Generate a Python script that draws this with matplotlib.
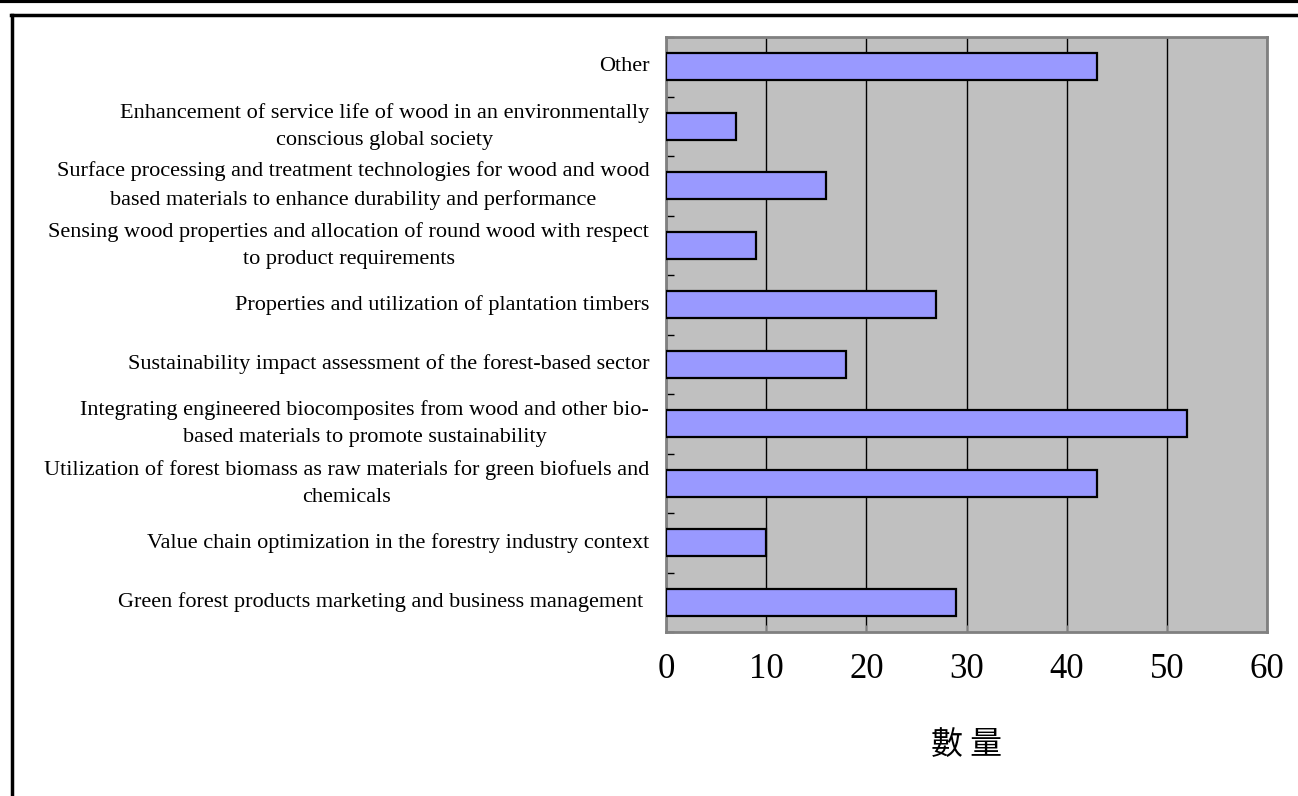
import numpy as np
import matplotlib
matplotlib.use('Agg')
import matplotlib.pyplot as plt
from matplotlib.lines import Line2D

# data, bottom to top
categories = [
    'Green forest products marketing and business management ',
    'Value chain optimization in the forestry industry context',
    'Utilization of forest biomass as raw materials for green biofuels and\nchemicals',
    'Integrating engineered biocomposites from wood and other bio-\nbased materials to promote sustainability',
    'Sustainability impact assessment of the forest-based sector',
    'Properties and utilization of plantation timbers',
    'Sensing wood properties and allocation of round wood with respect\nto product requirements',
    'Surface processing and treatment technologies for wood and wood\nbased materials to enhance durability and performance',
    'Enhancement of service life of wood in an environmentally\nconscious global society',
    'Other',
]
counts = [29, 10, 43, 52, 18, 27, 9, 16, 7, 43]
xticks = [0, 10, 20, 30, 40, 50, 60]
xlabel = '數 量'

serif = ['Liberation Serif', 'DejaVu Serif']
cjk = ['Noto Sans CJK TC', 'DejaVu Sans']

fig = plt.figure(figsize=(12.98, 7.96), dpi=100)
ax = fig.add_axes([666 / 1298, 1 - 632 / 796, 601 / 1298, 595 / 796])

y = np.arange(len(categories))
ax.set_facecolor('#C0C0C0')
ax.barh(y, counts, height=0.45, color='#9999FF', edgecolor='black', linewidth=1.6, zorder=3)

ax.set_xlim(0, 60)
ax.set_ylim(-0.5, len(categories) - 0.5)
ax.set_xticks(xticks)
ax.set_xticklabels([str(t) for t in xticks], family=serif, fontsize=25)
ax.tick_params(axis='x', direction='in', length=5, pad=15, color='#808080')
ax.xaxis.grid(True, color='black', linewidth=1, zorder=1)
ax.set_axisbelow(True)

# category labels sit between boundary ticks
ax.set_yticks(np.arange(-0.5, len(categories), 1.0))
ax.set_yticklabels([])
ax.tick_params(axis='y', direction='in', length=6, color='black', width=1)
for yi, lab in zip(y, categories):
    ax.text(-0.028, yi, lab, transform=ax.get_yaxis_transform(), ha='right', va='center',
            multialignment='center', family=serif, fontsize=16, linespacing=1.6)

for s in ax.spines.values():
    s.set_color('#808080')
    s.set_linewidth(2)

fig.text(966.5 / 1298, 1 - 745 / 796, xlabel, ha='center', va='center', family=cjk, fontsize=23)

# frame lines
fig.add_artist(Line2D([0, 1], [1 - 1 / 796, 1 - 1 / 796], color='black', linewidth=3))
fig.add_artist(Line2D([11 / 1298, 1], [1 - 14.5 / 796, 1 - 14.5 / 796], color='black', linewidth=2.5))
fig.add_artist(Line2D([11.5 / 1298, 11.5 / 1298], [0, 1 - 14.5 / 796], color='black', linewidth=2.5))

fig.savefig('out.png', dpi=100)
